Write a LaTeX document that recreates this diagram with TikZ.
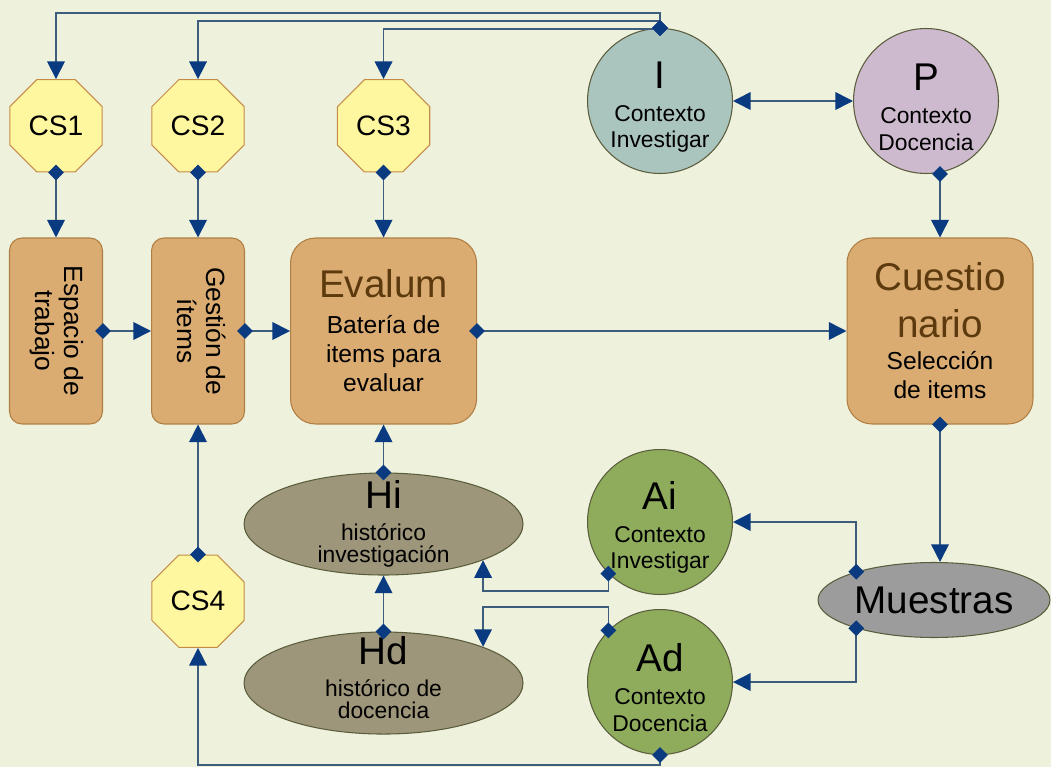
\documentclass[tikz,border=0pt]{standalone}
\usepackage{fontspec}
\setmainfont{Liberation Sans}
\usepackage{graphicx}
\usetikzlibrary{positioning, shapes, arrows.meta, calc}

\definecolor{paper}{RGB}{238,242,221}
\definecolor{csfill}{RGB}{255,246,160}
\definecolor{csedge}{RGB}{196,140,70}
\definecolor{boxfill}{RGB}{218,172,114}
\definecolor{boxedge}{RGB}{176,126,66}
\definecolor{namebrown}{RGB}{92,58,14}
\definecolor{ifill}{RGB}{170,196,190}
\definecolor{pfill}{RGB}{206,186,206}
\definecolor{afill}{RGB}{142,172,92}
\definecolor{hfill}{RGB}{157,150,122}
\definecolor{mfill}{RGB}{156,156,156}
\definecolor{shapeedge}{RGB}{90,92,60}
\definecolor{linkline}{RGB}{62,92,124}
\definecolor{tipblue}{RGB}{10,58,128}

\tikzset{shapebase/.style={draw=shapeedge, line width=0.6pt, inner sep=0pt, align=center}}
\newcommand{\bigname}[1]{{\fontsize{22}{26}\selectfont #1}}
\newcommand{\ctxname}[1]{{\fontsize{22}{26}\selectfont\rule{0pt}{22pt}#1}}

\begin{document}
\begin{tikzpicture}[
		x=0.02cm, y=-0.02cm,
		csoct/.style={shapebase, draw=csedge, fill=csfill, regular polygon, regular polygon sides=8,
			minimum size=2cm, font=\fontsize{16}{18}\selectfont},
		smallbox/.style={shapebase, draw=boxedge, fill=boxfill, rectangle, rounded corners=0.25cm,
			minimum width=1.86cm, minimum height=3.72cm, font=\fontsize{15}{17}\selectfont},
		bigbox/.style={shapebase, draw=boxedge, fill=boxfill, rectangle, rounded corners=0.5cm,
			minimum width=3.72cm, minimum height=3.72cm, font=\fontsize{14}{16.5}\selectfont},
		ctx/.style={shapebase, circle, minimum size=2.9cm, font=\fontsize{13}{15}\selectfont},
		hist/.style={shapebase, fill=hfill, ellipse, minimum width=5.58cm, minimum height=2.04cm,
			inner ysep=-0.3cm, font=\fontsize{13}{12.5}\selectfont},
		link/.style={draw=linkline, line width=0.9pt, shorten <=-4.5pt,
			{Diamond[length=9pt,width=9pt,color=tipblue]}-{Triangle[length=10pt,width=10pt,color=tipblue]}},
		both/.style={draw=linkline, line width=0.9pt,
			{Triangle[length=10pt,width=10pt,color=tipblue]}-{Triangle[length=10pt,width=10pt,color=tipblue]}}
		]
		\fill[paper] (0,0) rectangle (1051,767);
		\useasboundingbox (0,0) rectangle (1051,767);
		
		% middle row
		\node[smallbox] (espacio) at (56,331) {\rotatebox{-90}{\begin{tabular}{@{}c@{}}Espacio de\\trabajo\end{tabular}}};
		\node[smallbox, right=0.96cm of espacio] (gestion) {\rotatebox{-90}{\begin{tabular}{@{}c@{}}Gestión de\\ítems\end{tabular}}};
		\node[bigbox, right=0.9cm of gestion] (evalum) {\bigname{\color{namebrown}Evalum}\\[4pt]Batería de\\items para\\evaluar};
		\node[bigbox] (cuest) at (940,331) {\bigname{\color{namebrown}Cuestio}\\[10pt]\bigname{\color{namebrown}nario}\\[2pt]Selección\\de items};
		
		% CS nodes
		\node[csoct, above=1.3cm of espacio] (cs1) {CS1};
		\node[csoct, above=1.3cm of gestion] (cs2) {CS2};
		\node[csoct, above=1.3cm of evalum] (cs3) {CS3};
		\node[csoct, below=2.6cm of gestion] (cs4) {CS4};
		
		% contexts
		\node[ctx, fill=ifill] (I) at (660,101) {\ctxname{I}\\[4pt]Contexto\\Investigar};
		\node[ctx, fill=pfill, right=2.4cm of I] (P) {\ctxname{P}\\[4pt]Contexto\\Docencia};
		\node[ctx, fill=afill] (Ai) at (660,522) {\ctxname{Ai}\\[4pt]Contexto\\Investigar};
		\node[ctx, fill=afill, below=0.28cm of Ai] (Ad) {\ctxname{Ad}\\[4pt]Contexto\\Docencia};
		
		% historicos
		\node[hist, below=0.96cm of evalum] (Hi) {\bigname{Hi}\\[6pt]histórico\\investigación};
		\node[hist, below=1.12cm of Hi] (Hd) {\bigname{Hd}\\[6pt]histórico de\\docencia\\[-6pt]};
		
		\node[shapebase, fill=mfill, ellipse, minimum width=4.64cm, minimum height=1.5cm,
			font=\fontsize{22}{26}\selectfont] (mue) at (934,600) {Muestras};
		
		% helper rows for the connectors
		\coordinate (topa) at (0,13);
		\coordinate (topb) at (0,21);
		\coordinate (topc) at (0,29);
		\coordinate (hiturn) at (0,591);
		\coordinate (hdturn) at (0,607);
		\coordinate (bot) at (0,765);
		
		\draw[link] (I.north) |- (cs1.north |- topa) -- (cs1.north);
		\draw[link] (I.north) |- (cs2.north |- topb) -- (cs2.north);
		\draw[link] (I.north) |- (cs3.north |- topc) -- (cs3.north);
		\draw[both] (I.east) -- (P.west);
		\draw[link] (P.south -| cuest.north) -- (cuest.north);
		
		\draw[link] (cs1.south) -- (espacio.north);
		\draw[link] (cs2.south) -- (gestion.north);
		\draw[link] (cs3.south) -- (evalum.north);
		\draw[link] (espacio.east) -- (gestion.west);
		\draw[link] (gestion.east) -- (evalum.west);
		\draw[link] (evalum.east) -- (cuest.west);
		
		\draw[link] (cs4.north) -- (gestion.south);
		\draw[link] (Hi.north) -- (evalum.south);
		\draw[link] (Hd.north) -- (Hi.south);
		\draw[link] (cuest.south) -- (cuest.south |- mue.north);
		\draw[link] (mue.160) |- (Ai.east);
		\draw[link] (mue.200) |- (Ad.east);
		\draw[link] (Ai.225) |- (Hi.-20 |- hiturn) -- (Hi.-20);
		\draw[link] (Ad.135) |- (Hd.20 |- hdturn) -- (Hd.20);
		\draw[link] (Ad.south) |- (cs4.south |- bot) -- (cs4.south);
		
	\end{tikzpicture}
\end{document}
